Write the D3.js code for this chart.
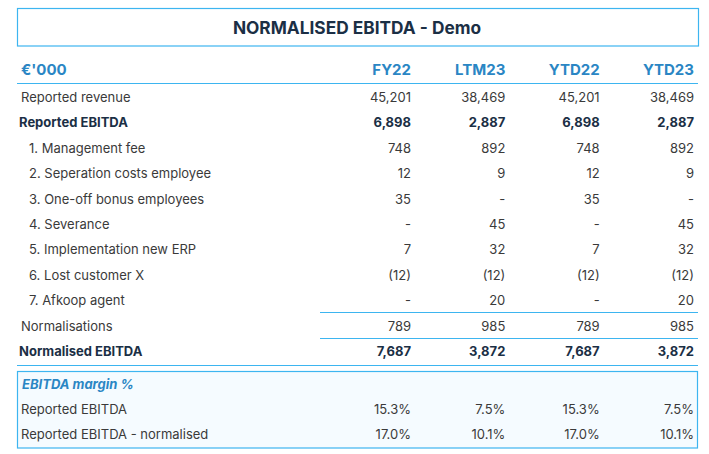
<!DOCTYPE html>
<html>
<head>
<meta charset="utf-8">
<script src="https://cdn.jsdelivr.net/npm/d3@7"></script>
<style>
  html, body { margin: 0; padding: 0; background: #ffffff; }
  svg { display: block; }
</style>
</head>
<body>
<svg id="chart" width="709" height="454"></svg>
<script>
// ---- data ----
const title = "NORMALISED EBITDA - Demo";
const unitLabel = "€'000";
const periods = ["FY22", "LTM23", "YTD22", "YTD23"];
const rowLabels = [
  "Reported revenue",
  "Reported EBITDA",
  "1. Management fee",
  "2. Seperation costs employee",
  "3. One-off bonus employees",
  "4. Severance",
  "5. Implementation new ERP",
  "6. Lost customer X",
  "7. Afkoop agent",
  "Normalisations",
  "Normalised EBITDA"
];
const rowKinds = ["plain", "bold", "item", "item", "item", "item", "item", "item", "item", "plain", "bold"];
const fy22  = [45201, 6898, 748, 12, 35, null, 7, -12, null, 789, 7687];
const ltm23 = [38469, 2887, 892, 9, null, 45, 32, -12, 20, 985, 3872];
const ytd22 = [45201, 6898, 748, 12, 35, null, 7, -12, null, 789, 7687];
const ytd23 = [38469, 2887, 892, 9, null, 45, 32, -12, 20, 985, 3872];
const marginTitle = "EBITDA margin %";
const marginLabels = ["Reported EBITDA", "Reported EBITDA - normalised"];
const marginFY22  = [15.3, 17.0];
const marginLTM23 = [7.5, 10.1];
const marginYTD22 = [15.3, 17.0];
const marginYTD23 = [7.5, 10.1];

// ---- drawing ----
const seriesValues = [fy22, ltm23, ytd22, ytd23];
const marginValues = [marginFY22, marginLTM23, marginYTD22, marginYTD23];

const svg = d3.select("#chart");
const font = "Inter, 'Noto Sans', sans-serif";
const lineCol = "#3db5f0";
const headCol = "#2a86c4";
const darkCol = "#1b2f45";
const textCol = "#3a3a3a";

const fmtNum = d3.format(",.0f");
function fmtVal(v) {
  if (v === null || v === undefined) return "-";
  if (v < 0) return "(" + fmtNum(-v) + ")";
  return fmtNum(v);
}
const fmtPct = v => d3.format(".1f")(v) + "%";

// column right edges
const xCol = d3.scalePoint().domain(periods).range([411, 694]);
// row centres
const allRows = d3.range(rowLabels.length);
const yRow = d3.scaleLinear().domain([0, rowLabels.length - 1]).range([97, 351]);

// Title box
svg.append("rect").attr("x", 17.5).attr("y", 8.5).attr("width", 681).attr("height", 37.5)
  .attr("fill", "none").attr("stroke", lineCol).attr("stroke-width", 1.2);
svg.append("text").attr("x", 357).attr("y", 27.5).attr("text-anchor", "middle")
  .attr("dominant-baseline", "central").attr("font-family", font).attr("font-weight", 700)
  .attr("font-size", 17.3).attr("fill", darkCol).text(title);

// Header
svg.append("text").attr("x", 21).attr("y", 69).attr("dominant-baseline", "central")
  .attr("font-family", font).attr("font-weight", 700).attr("font-size", 15)
  .attr("fill", headCol).text(unitLabel);
svg.selectAll("text.head").data(periods).enter().append("text").attr("class", "head")
  .attr("x", d => xCol(d)).attr("y", 69).attr("text-anchor", "end")
  .attr("dominant-baseline", "central").attr("font-family", font).attr("font-weight", 700)
  .attr("font-size", 15).attr("fill", headCol).text(d => d);
svg.append("line").attr("x1", 17).attr("x2", 698).attr("y1", 83.5).attr("y2", 83.5)
  .attr("stroke", lineCol).attr("stroke-width", 1.2);

// Row labels
const labelX = k => k === "item" ? 29 : (k === "bold" ? 19 : 21);
svg.selectAll("text.lab").data(allRows).enter().append("text").attr("class", "lab")
  .attr("x", i => labelX(rowKinds[i])).attr("y", i => yRow(i))
  .attr("dominant-baseline", "central").attr("font-family", font)
  .attr("font-weight", i => rowKinds[i] === "bold" ? 700 : 400)
  .attr("font-size", 13).attr("fill", i => rowKinds[i] === "bold" ? darkCol : textCol)
  .text(i => rowLabels[i]);

// Row values
periods.forEach((p, c) => {
  svg.selectAll("text.v" + c).data(allRows).enter().append("text").attr("class", "v" + c)
    .attr("x", xCol(p)).attr("y", i => yRow(i)).attr("text-anchor", "end")
    .attr("dominant-baseline", "central").attr("font-family", font)
    .attr("font-weight", i => rowKinds[i] === "bold" ? 700 : 400)
    .attr("font-size", 13).attr("fill", i => rowKinds[i] === "bold" ? darkCol : textCol)
    .text(i => fmtVal(seriesValues[c][i]));
});

// Subtotal lines
svg.append("line").attr("x1", 320).attr("x2", 698).attr("y1", 312.5).attr("y2", 312.5)
  .attr("stroke", lineCol).attr("stroke-width", 1.2);
svg.append("line").attr("x1", 320).attr("x2", 698).attr("y1", 338.5).attr("y2", 338.5)
  .attr("stroke", lineCol).attr("stroke-width", 1.2);
svg.append("line").attr("x1", 17).attr("x2", 698).attr("y1", 365.5).attr("y2", 365.5)
  .attr("stroke", lineCol).attr("stroke-width", 1.2);

// Margin box
svg.append("rect").attr("x", 17.5).attr("y", 371.5).attr("width", 680).attr("height", 76.5)
  .attr("fill", "#f5fbff").attr("stroke", lineCol).attr("stroke-width", 1.2);
svg.append("text").attr("x", 22).attr("y", 384).attr("dominant-baseline", "central")
  .attr("font-family", font).attr("font-weight", 700).attr("font-style", "italic")
  .attr("font-size", 13).attr("fill", headCol).text(marginTitle);
const yM = d3.scaleLinear().domain([0, 1]).range([409, 434]);
svg.selectAll("text.ml").data(marginLabels).enter().append("text").attr("class", "ml")
  .attr("x", 21).attr("y", (d, i) => yM(i)).attr("dominant-baseline", "central")
  .attr("font-family", font).attr("font-size", 13).attr("fill", textCol).text(d => d);
periods.forEach((p, c) => {
  svg.selectAll("text.m" + c).data(marginValues[c]).enter().append("text").attr("class", "m" + c)
    .attr("x", xCol(p)).attr("y", (d, i) => yM(i)).attr("text-anchor", "end")
    .attr("dominant-baseline", "central").attr("font-family", font)
    .attr("font-size", 13).attr("fill", textCol).text(d => fmtPct(d));
});
</script>
</body>
</html>
